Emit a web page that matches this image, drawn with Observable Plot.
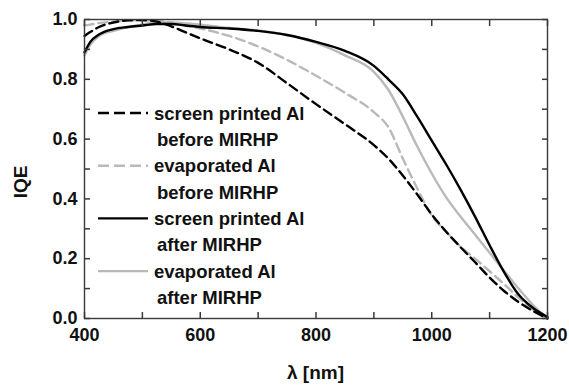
<!DOCTYPE html>
<html>
<head>
<meta charset="utf-8">
<script src="https://cdn.jsdelivr.net/npm/d3@7"></script>
<script src="https://cdn.jsdelivr.net/npm/@observablehq/plot@0.6"></script>
<style>
  html, body { margin: 0; padding: 0; background: #fff; }
  #chart { width: 569px; height: 389px; }
</style>
</head>
<body>
<div id="chart"></div>
<script>
// wavelength grid (nm)
const lambda = [400, 410, 425, 450, 475, 500, 525, 550, 575, 600, 650, 700, 750, 800, 850, 900, 925, 950, 975, 1000, 1025, 1050, 1075, 1100, 1125, 1150, 1175, 1200];

// screen printed Al, before MIRHP (black dashed)
const spBefore = [0.945, 0.958, 0.975, 0.99, 0.997, 0.998, 0.993, 0.977, 0.957, 0.937, 0.9, 0.855, 0.787, 0.717, 0.65, 0.58, 0.535, 0.478, 0.415, 0.348, 0.29, 0.238, 0.188, 0.137, 0.092, 0.055, 0.025, 0.0];
// evaporated Al, before MIRHP (grey dashed)
const evBefore = [0.98, 0.983, 0.988, 0.993, 0.997, 0.997, 0.995, 0.99, 0.98, 0.97, 0.945, 0.91, 0.865, 0.812, 0.755, 0.69, 0.64, 0.535, 0.435, 0.345, 0.29, 0.24, 0.2, 0.158, 0.115, 0.07, 0.03, 0.0];
// screen printed Al, after MIRHP (black solid)
const spAfter = [0.89, 0.925, 0.95, 0.968, 0.975, 0.98, 0.985, 0.985, 0.98, 0.975, 0.97, 0.962, 0.948, 0.925, 0.895, 0.845, 0.8, 0.75, 0.675, 0.595, 0.515, 0.43, 0.34, 0.245, 0.155, 0.08, 0.035, 0.005];
// evaporated Al, after MIRHP (grey solid)
const evAfter = [0.88, 0.915, 0.945, 0.962, 0.975, 0.983, 0.99, 0.99, 0.987, 0.983, 0.972, 0.963, 0.948, 0.922, 0.88, 0.825, 0.765, 0.675, 0.575, 0.485, 0.405, 0.34, 0.28, 0.22, 0.16, 0.1, 0.045, 0.0];

const seriesNames = ["screen printed Al\nbefore MIRHP", "evaporated Al\nbefore MIRHP", "screen printed Al\nafter MIRHP", "evaporated Al\nafter MIRHP"];
const seriesValues = [spBefore, evBefore, spAfter, evAfter];
const seriesColors = ["#000000", "#b9b9b9", "#000000", "#b9b9b9"];
const seriesDash = ["9,5", "9,5", null, null];

const xMajorTicks = [400, 600, 800, 1000, 1200];
const xAllTicks = [400, 500, 600, 700, 800, 900, 1000, 1100, 1200];
const yMajorTicks = [0, 0.2, 0.4, 0.6, 0.8, 1.0];
const yAllTicks = [0, 0.1, 0.2, 0.3, 0.4, 0.5, 0.6, 0.7, 0.8, 0.9, 1.0];

const rows = (vals, i) => lambda.map((l, j) => ({lambda: l, iqe: vals[j], s: i}));

const font = "'Liberation Sans', Arial, Helvetica, sans-serif";
const axisColor = "#3a3a3a";
const T = 6; // inward tick length

const lineMarks = seriesValues.map((vals, i) =>
  Plot.line(rows(vals, i), {
    x: "lambda", y: "iqe",
    stroke: seriesColors[i],
    strokeWidth: 2.4,
    strokeDasharray: seriesDash[i],
    curve: "monotone-x"
  })
);
const order = [1, 3, 0, 2];

const plot = Plot.plot({
  width: 569,
  height: 389,
  marginTop: 19,
  marginRight: 22,
  marginBottom: 71,
  marginLeft: 84,
  style: {fontFamily: font, fontWeight: "bold", fontSize: "18px"},
  x: {domain: [400, 1200]},
  y: {domain: [0, 1]},
  marks: [
    ...order.map(i => lineMarks[i]),
    Plot.frame({stroke: axisColor, strokeWidth: 1.4}),
    // inward ticks on all four sides
    Plot.axisX(xAllTicks, {anchor: "bottom", tickSize: -T, text: null, label: null, stroke: axisColor, strokeWidth: 1.5}),
    Plot.axisX(xAllTicks, {anchor: "top", tickSize: -T, text: null, label: null, stroke: axisColor, strokeWidth: 1.5}),
    Plot.axisY(yAllTicks, {anchor: "left", tickSize: -T, text: null, label: null, stroke: axisColor, strokeWidth: 1.5}),
    Plot.axisY(yAllTicks, {anchor: "right", tickSize: -T, text: null, label: null, stroke: axisColor, strokeWidth: 1.5}),
    // tick labels
    Plot.axisX(xMajorTicks, {anchor: "bottom", tickSize: 0, tickPadding: 10, tickFormat: d3.format("d"), label: null, fill: "#111"}),
    Plot.axisY(yMajorTicks, {anchor: "left", tickSize: 0, tickPadding: 7, tickFormat: d3.format(".1f"), label: null, fill: "#111"})
  ]
});

document.getElementById("chart").appendChild(plot);

const svg = d3.select(plot);

// axis titles
svg.append("text")
  .attr("x", 315.5).attr("y", 372).attr("dy", "0.36em")
  .attr("text-anchor", "middle")
  .style("font-family", font).style("font-weight", "bold").style("font-size", "19px")
  .attr("fill", "#111").text("λ [nm]");
svg.append("text")
  .attr("transform", "translate(20,182) rotate(-90)")
  .attr("dy", "0.36em")
  .attr("text-anchor", "middle")
  .style("font-family", font).style("font-weight", "bold").style("font-size", "19px")
  .attr("fill", "#111").text("IQE");

// legend (inside the plot frame, upper-left area)
const leg = svg.append("g").attr("class", "legend")
  .attr("text-anchor", "start")
  .style("font-family", font).style("font-weight", "bold").style("font-size", "18.5px");
const legTop = 113, legStep = 52.7, lineStep = 26.3;
seriesNames.forEach((name, i) => {
  const y = legTop + i * legStep;
  leg.append("line")
    .attr("x1", 98).attr("x2", 148).attr("y1", y).attr("y2", y)
    .attr("stroke", seriesColors[i]).attr("stroke-width", 2.4)
    .attr("stroke-dasharray", seriesDash[i] ? "11,5" : null);
  name.split("\n").forEach((part, k) => {
    leg.append("text")
      .attr("x", k === 0 ? 154 : 157)
      .attr("y", y + k * lineStep)
      .attr("dy", "0.36em")
      .attr("text-anchor", "start")
      .attr("fill", "#111")
      .text(part);
  });
});
</script>
</body>
</html>
